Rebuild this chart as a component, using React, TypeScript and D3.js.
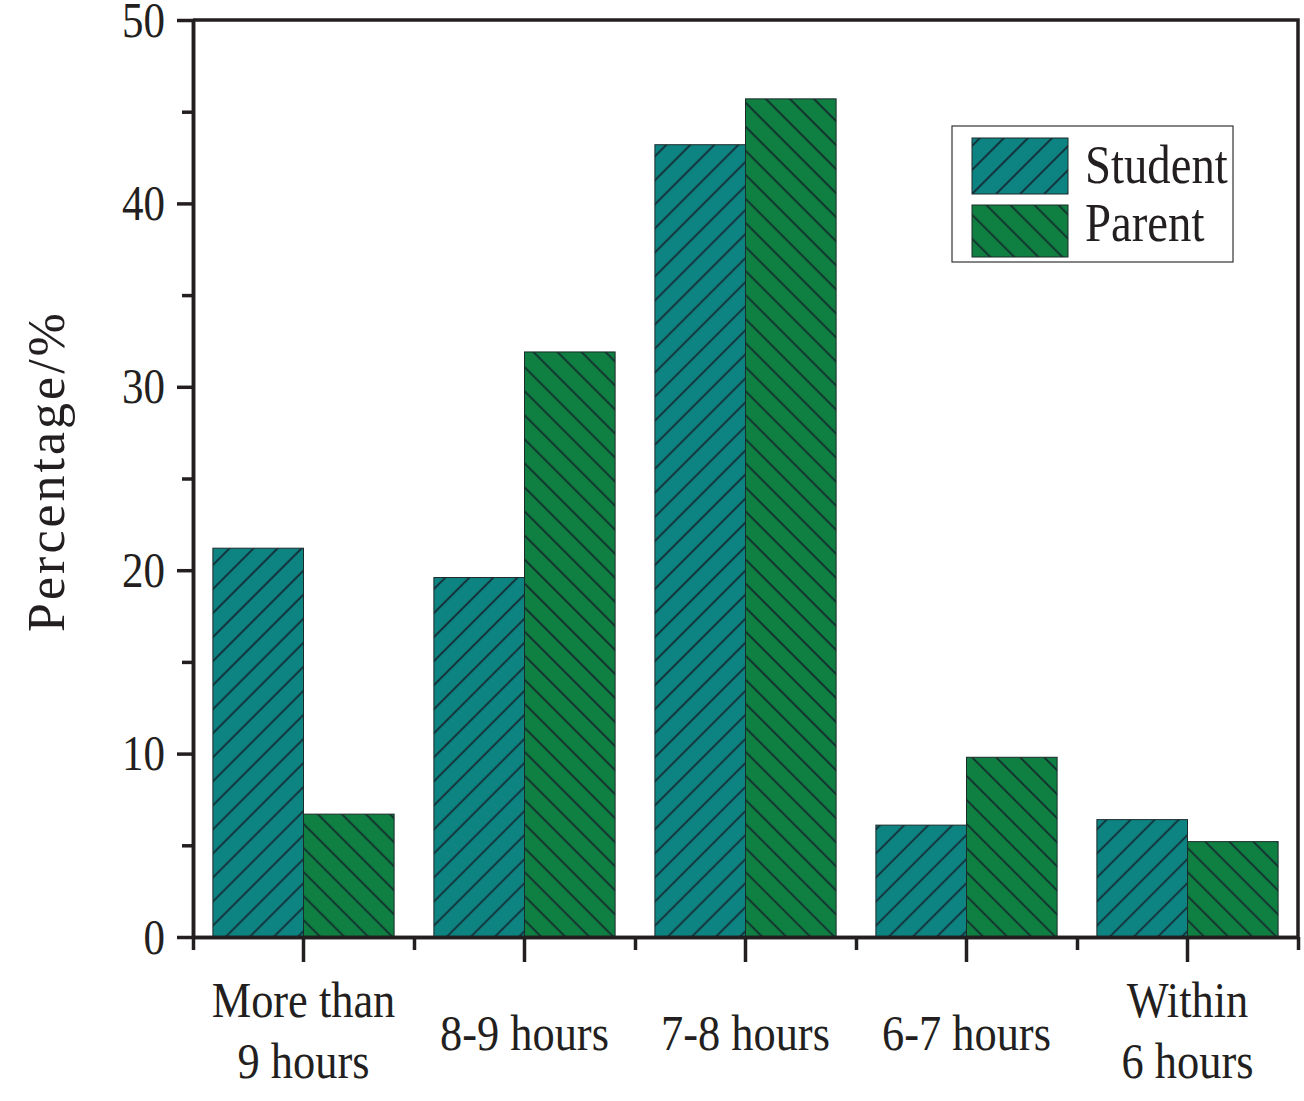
import { useEffect, useRef } from 'react'
import * as d3 from 'd3'

const CATEGORIES = ['More than 9 hours', '8-9 hours', '7-8 hours', '6-7 hours', 'Within 6 hours']
const CATEGORY_LINES: string[][] = [['More than', '9 hours'], ['8-9 hours'], ['7-8 hours'], ['6-7 hours'], ['Within', '6 hours']]
const SERIES = ['Student', 'Parent']
const STUDENT = [21.2, 19.6, 43.2, 6.1, 6.4]
const PARENT = [6.7, 31.9, 45.7, 9.8, 5.2]
const Y_MAJOR = [0, 10, 20, 30, 40, 50]
const Y_MINOR = [5, 15, 25, 35, 45]

const FILL: Record<string, string> = { Student: '#0e8482', Parent: '#0f8042' }
const HATCH: Record<string, number> = { Student: 45, Parent: -45 }
const INK = '#231f20'
const FONT = '"Liberation Serif", "Times New Roman", serif'

const LEFT = 193, RIGHT = 1298, TOP = 20, BOTTOM = 937

export default function App() {
  const svgRef = useRef<SVGSVGElement>(null)

  useEffect(() => {
    const svg = d3.select(svgRef.current)
    svg.selectAll('*').remove()

    const x = d3.scaleBand<string>().domain(CATEGORIES).range([LEFT, RIGHT]).paddingInner(0.18).paddingOuter(0.09)
    const xs = d3.scaleBand<string>().domain(SERIES).range([0, x.bandwidth()])
    const y = d3.scaleLinear().domain([0, 50]).range([BOTTOM, TOP])

    // hatch patterns
    const defs = svg.append('defs')
    SERIES.forEach(s => {
      const p = defs.append('pattern')
        .attr('id', `hatch-${s}`)
        .attr('patternUnits', 'userSpaceOnUse')
        .attr('width', 17).attr('height', 17)
        .attr('patternTransform', `rotate(${HATCH[s]})`)
      p.append('rect').attr('width', 17).attr('height', 17).attr('fill', FILL[s])
      p.append('line').attr('x1', 8.5).attr('x2', 8.5).attr('y1', -1).attr('y2', 18)
        .attr('stroke', '#14202a').attr('stroke-width', 1.6)
    })

    // Bars
    const rows = CATEGORIES.map((c, i) => ({ c, vals: [STUDENT[i], PARENT[i]] }))
    const groups = svg.append('g').selectAll('g').data(rows).join('g')
      .attr('transform', d => `translate(${x(d.c)},0)`)
    groups.selectAll('rect')
      .data(d => SERIES.map((s, j) => ({ s, v: d.vals[j] })))
      .join('rect')
      .attr('x', d => xs(d.s)!)
      .attr('y', d => y(d.v))
      .attr('width', xs.bandwidth())
      .attr('height', d => y(0) - y(d.v))
      .attr('fill', d => `url(#hatch-${d.s})`)
      .attr('stroke', '#1c2a2a').attr('stroke-width', 1)

    const styleAxis = (g: d3.Selection<SVGGElement, unknown, null, undefined>) => {
      g.selectAll('line').attr('stroke', INK).attr('stroke-width', 3.5)
      g.selectAll('.domain').attr('stroke', INK).attr('stroke-width', 3.5)
    }

    // Frame (top + right)
    svg.append('path')
      .attr('d', `M${LEFT},${TOP}H${RIGHT}V${BOTTOM}`)
      .attr('fill', 'none').attr('stroke', INK).attr('stroke-width', 3.5)

    // Y axis
    svg.append('g').attr('transform', `translate(${LEFT},0)`)
      .call(d3.axisLeft(y).tickValues(Y_MINOR).tickSize(11).tickSizeOuter(0).tickFormat(() => ''))
      .call(styleAxis)
    svg.append('g').attr('transform', `translate(${LEFT},0)`)
      .call(d3.axisLeft(y).tickValues(Y_MAJOR).tickSize(16).tickSizeOuter(0).tickPadding(12))
      .call(styleAxis)
      .call(g => g.selectAll('text')
        .attr('font-family', FONT).attr('font-size', 50).attr('fill', INK)
        .attr('x', -28 / 0.86).attr('transform', 'scale(0.86,1)'))

    // X axis
    const xb = d3.scaleLinear().domain([0, CATEGORIES.length]).range([LEFT, RIGHT])
    svg.append('g').attr('transform', `translate(0,${BOTTOM})`)
      .call(d3.axisBottom(xb).tickValues(d3.range(CATEGORIES.length + 1)).tickSize(13).tickSizeOuter(0).tickFormat(() => ''))
      .call(styleAxis)
    svg.append('g').attr('transform', `translate(0,${BOTTOM})`)
      .call(d3.axisBottom(x).tickSize(25).tickSizeOuter(0).tickFormat(() => ''))
      .call(styleAxis)

    // Category labels
    CATEGORIES.forEach((c, i) => {
      const lines = CATEGORY_LINES[i]
      const cx = x(c)! + x.bandwidth() / 2
      const base = lines.length === 1 ? [1050] : [1017, 1078]
      lines.forEach((t, k) => {
        svg.append('text')
          .attr('transform', `translate(${cx},${base[k]}) scale(0.87,1)`)
          .attr('text-anchor', 'middle')
          .attr('font-family', FONT).attr('font-size', 51).attr('fill', INK)
          .text(t)
      })
    })

    // Y title
    svg.append('text')
      .attr('transform', 'translate(64,471) rotate(-90)')
      .attr('text-anchor', 'middle')
      .attr('font-family', FONT).attr('font-size', 52).attr('fill', INK)
      .attr('letter-spacing', 3)
      .text('Percentage/%')

    // Legend
    const lg = svg.append('g')
    lg.append('rect').attr('x', 952).attr('y', 126).attr('width', 281).attr('height', 136)
      .attr('fill', '#fff').attr('stroke', '#333').attr('stroke-width', 1.2)
    const swY = [138, 205]
    const swH = [56, 52]
    const txY = [183, 241]
    SERIES.forEach((s, j) => {
      lg.append('rect').attr('x', 972).attr('y', swY[j]).attr('width', 96).attr('height', swH[j])
        .attr('fill', `url(#hatch-${s})`).attr('stroke', '#1c2a2a').attr('stroke-width', 1)
      lg.append('text')
        .attr('transform', `translate(1085,${txY[j]}) scale(0.85,1)`)
        .attr('font-family', FONT).attr('font-size', 55).attr('fill', INK)
        .text(s)
    })
  }, [])

  return (
    <svg
      ref={svgRef}
      width={1304}
      height={1101}
      style={{ position: 'absolute', left: 0, top: 0, background: '#fff', display: 'block' }}
    />
  )
}
